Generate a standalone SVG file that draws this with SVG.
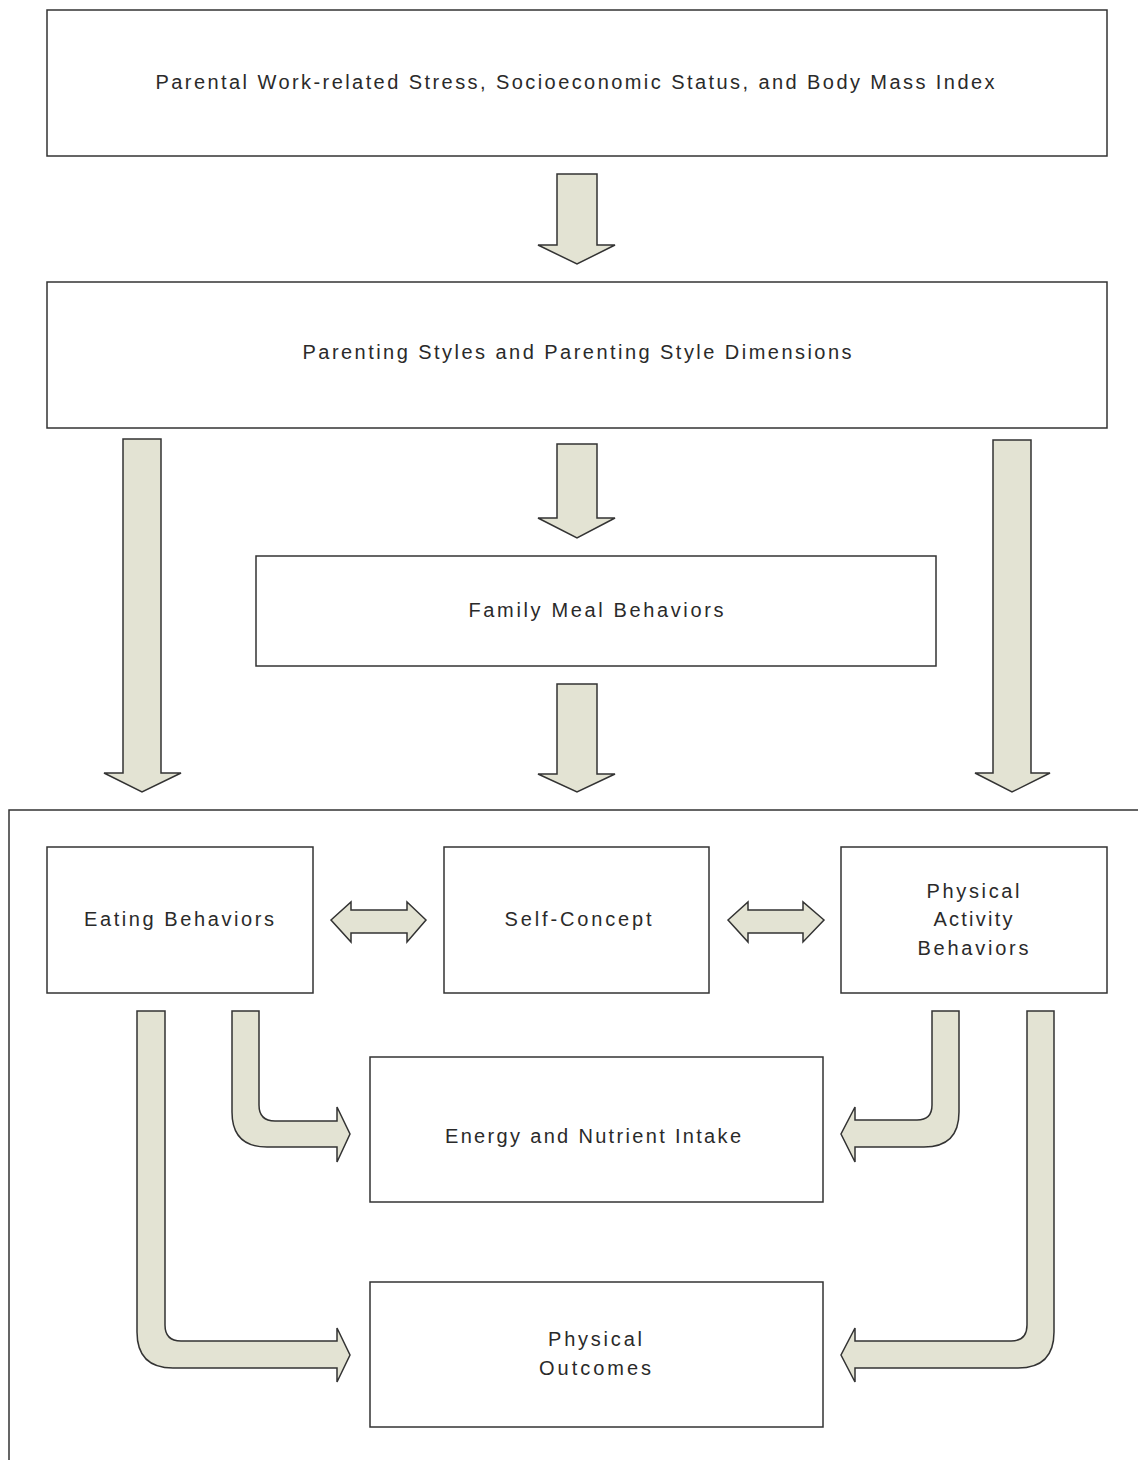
<svg xmlns="http://www.w3.org/2000/svg" width="1138" height="1460" viewBox="0 0 1138 1460">
<style>
.box{fill:#fff;stroke:#333;stroke-width:1.5}
.arr{fill:#e3e3d3;stroke:#333;stroke-width:1.5;stroke-linejoin:miter}
.t{font-family:"Liberation Sans",Arial,sans-serif;font-size:20px;fill:#2a2a2a;text-anchor:middle}
</style>
<rect width="1138" height="1460" fill="#fff"/>
<path d="M9,1460 V810 H1138" fill="none" stroke="#333" stroke-width="1.5"/>
<g id="n1"><rect class="box" x="47" y="10" width="1060" height="146"/>
<text class="t" x="575" y="89" textLength="839" lengthAdjust="spacing">Parental Work-related Stress, Socioeconomic Status, and Body Mass Index</text></g>
<g id="n2"><rect class="box" x="47" y="282" width="1060" height="146"/>
<text class="t" x="577" y="359" textLength="549" lengthAdjust="spacing">Parenting Styles and Parenting Style Dimensions</text></g>
<g id="n3"><rect class="box" x="256" y="556" width="680" height="110"/>
<text class="t" x="596" y="617" textLength="255" lengthAdjust="spacing">Family Meal Behaviors</text></g>
<g id="n4"><rect class="box" x="47" y="847" width="266" height="146"/>
<text class="t" x="179" y="926" textLength="190" lengthAdjust="spacing">Eating Behaviors</text></g>
<g id="n5"><rect class="box" x="444" y="847" width="265" height="146"/>
<text class="t" x="578" y="926" textLength="147" lengthAdjust="spacing">Self-Concept</text></g>
<g id="n6"><rect class="box" x="841" y="847" width="266" height="146"/>
<text class="t" x="973" y="898" textLength="93" lengthAdjust="spacing">Physical</text>
<text class="t" x="973" y="926" textLength="79" lengthAdjust="spacing">Activity</text>
<text class="t" x="973" y="955" textLength="111" lengthAdjust="spacing">Behaviors</text></g>
<g id="n7"><rect class="box" x="370" y="1057" width="453" height="145"/>
<text class="t" x="593" y="1143" textLength="296" lengthAdjust="spacing">Energy and Nutrient Intake</text></g>
<g id="n8"><rect class="box" x="370" y="1282" width="453" height="145"/>
<text class="t" x="595" y="1346" textLength="94" lengthAdjust="spacing">Physical</text>
<text class="t" x="595" y="1375" textLength="112" lengthAdjust="spacing">Outcomes</text></g>
<g id="connectors">
<path class="arr" d="M557,174 H597 V245 H615 L577,264 L538,245 H557 Z"/>
<path class="arr" d="M557,444 H597 V518 H615 L577,538 L538,518 H557 Z"/>
<path class="arr" d="M557,684 H597 V774 H615 L577,792 L538,774 H557 Z"/>
<path class="arr" d="M123,439 H161 V773 H181 L142,792 L104,773 H123 Z"/>
<path class="arr" d="M993,440 H1031 V773 H1050 L1012,792 L975,773 H993 Z"/>
<path class="arr" d="M331,920 L351,902 V910 H407 V902 L426,920 L407,942 V933 H351 V942 Z"/>
<path class="arr" d="M728,920 L748,902 V910 H803 V902 L824,920 L803,942 V933 H748 V942 Z"/>
<path class="arr" d="M137,1011 H165 V1325 Q165,1341 181,1341 H337 V1328 L350,1355 L337,1382 V1368 H173 Q137,1368 137,1332 Z"/>
<path class="arr" d="M232,1011 H259 V1105 Q259,1121 275,1121 H337 V1107 L350,1134 L337,1162 V1147 H267 Q232,1147 232,1112 Z"/>
<path class="arr" d="M959,1011 H932 V1105 Q932,1120 917,1120 H855 V1107 L841,1134 L855,1162 V1147 H924 Q959,1147 959,1112 Z"/>
<path class="arr" d="M1054,1011 H1027 V1325 Q1027,1341 1011,1341 H855 V1328 L841,1355 L855,1382 V1368 H1018 Q1054,1368 1054,1332 Z"/>
</g>
</svg>
